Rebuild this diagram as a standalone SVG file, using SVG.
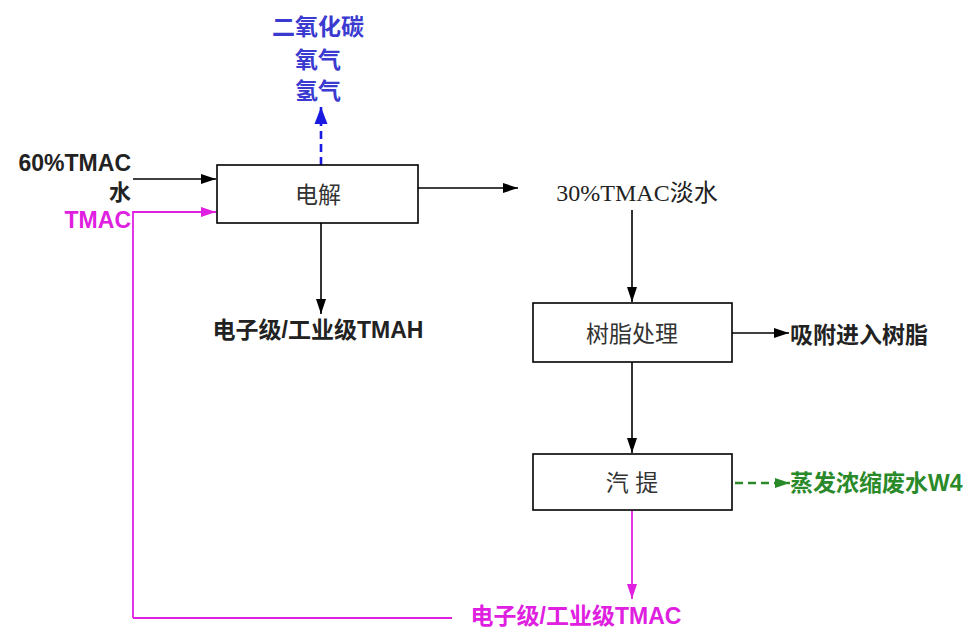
<svg xmlns="http://www.w3.org/2000/svg" width="972" height="628" viewBox="0 0 972 628">
<style>
.box{fill:#fff;stroke:#000;stroke-width:1.6}
.lbl{font-family:"Liberation Sans","Noto Sans CJK SC",sans-serif;font-size:23px;fill:#333;text-anchor:middle}
.out{font-family:"Liberation Sans","Noto Sans CJK SC",sans-serif;font-size:23px;font-weight:bold}
.k{stroke:#000;stroke-width:1.6;fill:none}
.m{stroke:#e020e0;stroke-width:1.8;fill:none}
.b{stroke:#1a1ae0;stroke-width:2.6;fill:none;stroke-dasharray:8 5}
.g{stroke:#2a8a2a;stroke-width:2.4;fill:none;stroke-dasharray:8 5}
</style>
<defs>
<marker id="ak" markerUnits="userSpaceOnUse" markerWidth="16" markerHeight="12" refX="15" refY="6" orient="auto"><path d="M0,1 L15,6 L0,11 Z" fill="#000"/></marker>
<marker id="am" markerUnits="userSpaceOnUse" markerWidth="16" markerHeight="12" refX="15" refY="6" orient="auto"><path d="M0,1 L15,6 L0,11 Z" fill="#e020e0"/></marker>
<marker id="ab" markerUnits="userSpaceOnUse" markerWidth="18" markerHeight="14" refX="17" refY="7" orient="auto"><path d="M0,0.5 L17,7 L0,13.5 Z" fill="#1a1ae0"/></marker>
<marker id="ag" markerUnits="userSpaceOnUse" markerWidth="16" markerHeight="12" refX="15" refY="6" orient="auto"><path d="M0,1 L15,6 L0,11 Z" fill="#2a8a2a"/></marker>
</defs>
<g id="connectors">
<path class="k" d="M133,179 H216" marker-end="url(#ak)"/>
<path class="m" d="M133,618 V212 H216" marker-end="url(#am)"/>
<path class="m" d="M133,618 H452"/>
<path class="b" d="M321,165 V107" marker-end="url(#ab)"/>
<path class="k" d="M321,223 V314" marker-end="url(#ak)"/>
<path class="k" d="M418,188 H518" marker-end="url(#ak)"/>
<path class="k" d="M632,210 V302" marker-end="url(#ak)"/>
<path class="k" d="M732,333 H789" marker-end="url(#ak)"/>
<path class="k" d="M632,362 V453" marker-end="url(#ak)"/>
<path class="g" d="M735,483 H790" marker-end="url(#ag)"/>
<path class="m" d="M632,510 V599" marker-end="url(#am)"/>
</g>
<g id="n-dianjie"><rect class="box" x="217" y="165" width="201" height="58"/><text class="lbl" x="318" y="203">电解</text></g>
<g id="n-shuzhi"><rect class="box" x="533" y="303" width="199" height="59"/><text class="lbl" x="632" y="342">树脂处理</text></g>
<g id="n-qiti"><rect class="box" x="533" y="454" width="199" height="56"/><text class="lbl" x="632" y="491" xml:space="preserve">汽 提</text></g>
<g id="gas" class="out" fill="#3a3ad0" text-anchor="middle">
<text x="318" y="35">二氧化碳</text>
<text x="318" y="68">氧气</text>
<text x="318" y="99">氢气</text>
</g>
<g id="inputs" class="out" text-anchor="end">
<text x="131" y="171" fill="#222">60%TMAC</text>
<text x="131" y="200" fill="#222" font-size="22">水</text>
<text x="131" y="228" fill="#e020e0">TMAC</text>
</g>
<text id="tmah" class="out" x="318" y="338" text-anchor="middle" fill="#222">电子级/工业级TMAH</text>
<text id="tmac30" x="637" y="201" text-anchor="middle" font-family="Liberation Serif,'Noto Sans CJK SC',serif" font-size="24" fill="#222">30%TMAC淡水</text>
<text id="xifu" class="out" x="790" y="343" fill="#222">吸附进入树脂</text>
<text id="w4" class="out" x="790" y="491" fill="#2a8a2a">蒸发浓缩废水W4</text>
<text id="tmacout" class="out" x="576" y="624" text-anchor="middle" fill="#e020e0" font-size="22">电子级/工业级TMAC</text>
</svg>
